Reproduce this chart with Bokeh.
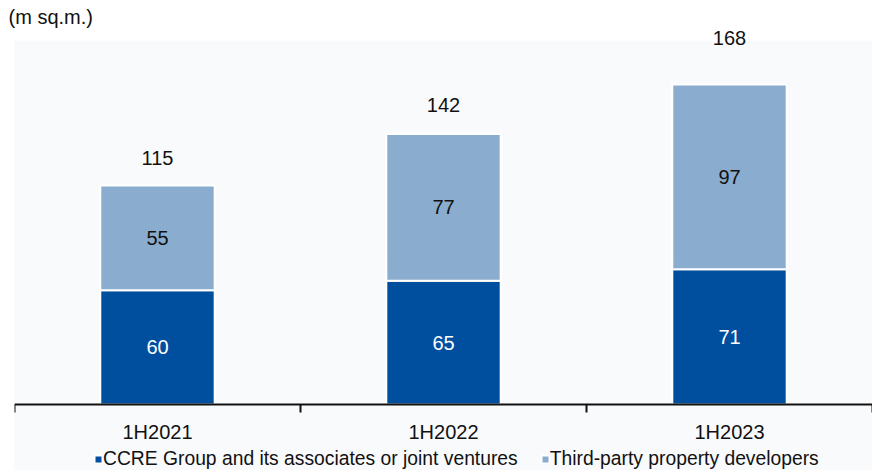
from bokeh.plotting import figure
from bokeh.models import (ColumnDataSource, Range1d, FactorRange, CategoricalAxis,
                          Legend, LegendItem, Title, BoxAnnotation)
from bokeh.core.properties import value
from bokeh.embed import file_html
from bokeh.resources import INLINE

# Floor area under management by client type, million square metres
periods = ["1H2021", "1H2022", "1H2023"]
ccre_group = [60, 65, 71]
third_party = [55, 77, 97]
series_names = ["CCRE Group and its associates or joint ventures",
                "Third-party property developers"]
unit_text = "(m sq.m.)"

# pixel lift of each total label above its bar
total_lift = [27, 29, 46]

DARK = "#004F9F"
LIGHT = "#8AADCF"
INK = "#111111"
FONT = "Liberation Sans"

PX_PER_UNIT = 1.905          # vertical scale, pixels per million sq.m.
BASELINE_PX = 404            # pixel row of the zero line
HEIGHT = 470
TOP_PANEL = 30               # height of the unit caption strip
TICK_PX = 8

totals = [a + b for a, b in zip(ccre_group, third_party)]
src = ColumnDataSource(dict(
    period=periods,
    ccre=ccre_group,
    third=third_party,
    ccre_mid=[a / 2 for a in ccre_group],
    third_mid=[a + b / 2 for a, b in zip(ccre_group, third_party)],
    total=totals,
    ccre_txt=[str(v) for v in ccre_group],
    third_txt=[str(v) for v in third_party],
    total_txt=[str(v) for v in totals],
    lift=[-v for v in total_lift],
))

y_top = (BASELINE_PX - TOP_PANEL) / PX_PER_UNIT
y_bottom = -(HEIGHT - BASELINE_PX) / PX_PER_UNIT

p = figure(width=872, height=HEIGHT, output_backend="svg", toolbar_location=None,
           x_range=FactorRange(factors=periods, range_padding=0),
           y_range=Range1d(y_bottom, y_top),
           x_axis_location=None, y_axis_location=None,
           min_border_left=14, min_border_right=0, min_border_top=TOP_PANEL,
           min_border_bottom=0,
           outline_line_color=None,
           background_fill_color="#f9fafc", border_fill_color="white")
p.grid.grid_line_color = None

# unit caption in the top strip
p.add_layout(Title(text=unit_text, align="left", offset=-6, standoff=5,
                   text_font=FONT, text_font_size="20px", text_font_style="normal",
                   text_color=INK), "above")

# white band across the top of the plotting area
p.add_layout(BoxAnnotation(bottom=y_top - (40 - TOP_PANEL) / PX_PER_UNIT,
                           fill_color="white", fill_alpha=1, line_color=None,
                           level="underlay"))

bars = p.vbar_stack(["ccre", "third"], x="period", width=0.4, source=src,
                    color=[DARK, LIGHT], line_color="white", line_width=2)

# baseline with category labels
cat_axis = CategoricalAxis(fixed_location=0, axis_line_color=INK, axis_line_width=2,
                           major_tick_line_color=None, major_tick_out=0, major_tick_in=0,
                           major_label_standoff=16,
                           major_label_text_font=FONT, major_label_text_font_size="20px",
                           major_label_text_color=INK)
p.add_layout(cat_axis, "below")

# tick marks on the boundaries between categories
edges = list(range(len(periods) + 1))
p.segment(x0=edges, x1=edges, y0=[0] * len(edges),
          y1=[-TICK_PX / PX_PER_UNIT] * len(edges), line_color=INK, line_width=2)

common = dict(text_font=value(FONT), text_font_size="20px",
              text_align="center", text_baseline="middle", source=src)
p.text(x="period", y="ccre_mid", text="ccre_txt", text_color="white", **common)
p.text(x="period", y="third_mid", text="third_txt", text_color=INK, **common)
p.text(x="period", y="total", text="total_txt", text_color=INK,
       y_offset="lift", **common)

legend = Legend(items=[LegendItem(label=series_names[0], renderers=[bars[0]]),
                       LegendItem(label=series_names[1], renderers=[bars[1]])],
                orientation="horizontal", location=(79, 0),
                glyph_width=10, glyph_height=10, label_standoff=0, spacing=22,
                padding=0, margin=0, label_height=18,
                label_text_font=FONT, label_text_font_size="19.3px",
                label_text_color=INK,
                background_fill_alpha=0, border_line_color=None)
p.add_layout(legend, "center")

open("out.html", "w").write(file_html(p, INLINE))
